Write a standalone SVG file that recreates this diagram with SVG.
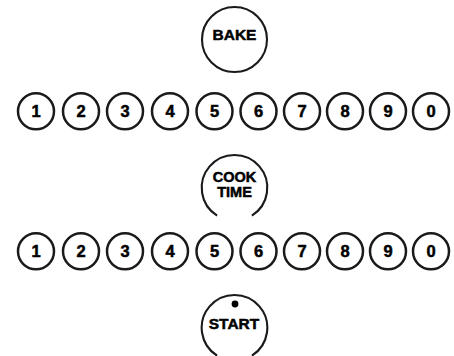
<svg xmlns="http://www.w3.org/2000/svg" width="454" height="356" viewBox="0 0 454 356">
<style>
.k{fill:none;stroke:#1a1a1a;stroke-width:2.5}
.big{fill:none;stroke:#1a1a1a;stroke-width:2.1}
.d{font-family:"Liberation Sans",Arial,sans-serif;font-weight:bold;font-size:16.5px;fill:#000;stroke:#000;stroke-width:0.5;text-anchor:middle}
.t{font-family:"Liberation Sans",Arial,sans-serif;font-weight:bold;fill:#000;stroke:#000;stroke-width:0.5;text-anchor:middle}
</style>
<rect width="454" height="356" fill="#fff"/>
<g id="bake"><circle class="big" cx="234.5" cy="39.5" r="32.5"/><text class="t" x="234.5" y="39.5" font-size="15.5">BAKE</text></g>
<g id="row1">
<g id="r1-1"><circle class="k" cx="36" cy="111.3" r="18"/><text class="d" x="36" y="117.3">1</text></g>
<g id="r1-2"><circle class="k" cx="81" cy="111.3" r="18"/><text class="d" x="81" y="117.3">2</text></g>
<g id="r1-3"><circle class="k" cx="125" cy="111.3" r="18"/><text class="d" x="125" y="117.3">3</text></g>
<g id="r1-4"><circle class="k" cx="170" cy="111.3" r="18"/><text class="d" x="170" y="117.3">4</text></g>
<g id="r1-5"><circle class="k" cx="214.5" cy="111.3" r="18"/><text class="d" x="214.5" y="117.3">5</text></g>
<g id="r1-6"><circle class="k" cx="258.5" cy="111.3" r="18"/><text class="d" x="258.5" y="117.3">6</text></g>
<g id="r1-7"><circle class="k" cx="302" cy="111.3" r="18"/><text class="d" x="302" y="117.3">7</text></g>
<g id="r1-8"><circle class="k" cx="345" cy="111.3" r="18"/><text class="d" x="345" y="117.3">8</text></g>
<g id="r1-9"><circle class="k" cx="388" cy="111.3" r="18"/><text class="d" x="388" y="117.3">9</text></g>
<g id="r1-0"><circle class="k" cx="431" cy="111.3" r="18"/><text class="d" x="431" y="117.3">0</text></g>
</g>
<g id="cooktime"><path class="big" d="M217.1,215.6 A32.8,32.8 0 1 1 251.9,215.6"/><text class="t" x="234.5" y="181.7" font-size="14.5">COOK</text><text class="t" x="234.5" y="196.7" font-size="14.5">TIME</text></g>
<g id="row2">
<g id="r2-1"><circle class="k" cx="36" cy="251.3" r="18"/><text class="d" x="36" y="257.3">1</text></g>
<g id="r2-2"><circle class="k" cx="81" cy="251.3" r="18"/><text class="d" x="81" y="257.3">2</text></g>
<g id="r2-3"><circle class="k" cx="125" cy="251.3" r="18"/><text class="d" x="125" y="257.3">3</text></g>
<g id="r2-4"><circle class="k" cx="170" cy="251.3" r="18"/><text class="d" x="170" y="257.3">4</text></g>
<g id="r2-5"><circle class="k" cx="214.5" cy="251.3" r="18"/><text class="d" x="214.5" y="257.3">5</text></g>
<g id="r2-6"><circle class="k" cx="258.5" cy="251.3" r="18"/><text class="d" x="258.5" y="257.3">6</text></g>
<g id="r2-7"><circle class="k" cx="302" cy="251.3" r="18"/><text class="d" x="302" y="257.3">7</text></g>
<g id="r2-8"><circle class="k" cx="345" cy="251.3" r="18"/><text class="d" x="345" y="257.3">8</text></g>
<g id="r2-9"><circle class="k" cx="388" cy="251.3" r="18"/><text class="d" x="388" y="257.3">9</text></g>
<g id="r2-0"><circle class="k" cx="431" cy="251.3" r="18"/><text class="d" x="431" y="257.3">0</text></g>
</g>
<g id="start"><path class="big" d="M217.1,355.6 A32.8,32.8 0 1 1 251.9,355.6"/><circle cx="235" cy="304" r="3.4" fill="#000"/><text class="t" x="234" y="329.3" font-size="15.5">START</text></g>
<g id="connectors"/>
</svg>
